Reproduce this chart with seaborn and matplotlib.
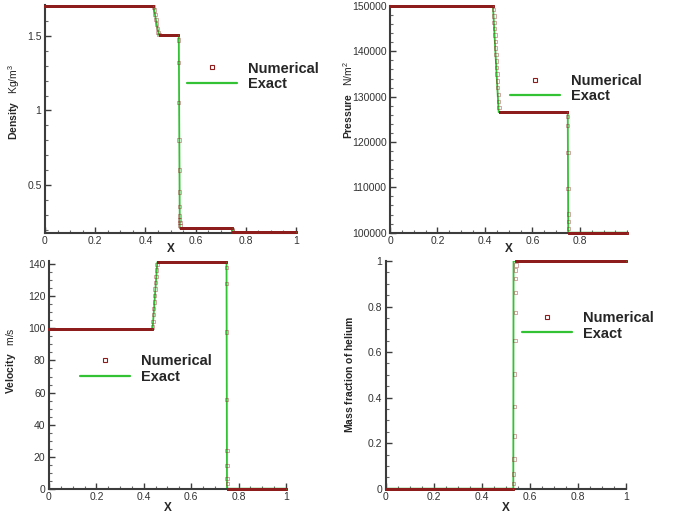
import numpy as np
import pandas as pd
import matplotlib
matplotlib.use("Agg")
import matplotlib.pyplot as plt
from matplotlib.lines import Line2D
from matplotlib.ticker import MultipleLocator, FixedLocator
import seaborn as sns

# ---------------------------------------------------------------------------
# Air / helium shock tube at the output time
# Exact solution: piecewise breakpoints; numerical: constant states + smeared cells
# ---------------------------------------------------------------------------
DX = 0.0025  # cell spacing of the numerical grid

# Density [kg/m^3]
rho_exact_x = [0.0, 0.432, 0.437, 0.442, 0.447, 0.451, 0.455, 0.533, 0.537, 0.746, 0.748, 1.0]
rho_exact_y = [1.70, 1.70, 1.655, 1.605, 1.56, 1.528, 1.505, 1.505, 0.207, 0.207, 0.182, 0.182]
rho_state_start = [0.0, 0.457, 0.540, 0.750]
rho_state_end = [0.430, 0.530, 0.745, 1.0]
rho_state_val = [1.70, 1.505, 0.207, 0.182]
rho_trans_x = [0.433, 0.436, 0.439, 0.442, 0.445, 0.448, 0.451, 0.454,
               0.531, 0.532, 0.533, 0.534, 0.535, 0.5355, 0.536, 0.5365, 0.537, 0.5375, 0.538,
               0.746, 0.748]
rho_trans_y = [1.695, 1.675, 1.645, 1.612, 1.58, 1.55, 1.525, 1.51,
               1.473, 1.32, 1.053, 0.80, 0.60, 0.453, 0.355, 0.292, 0.265, 0.247, 0.227,
               0.20, 0.19]

# Pressure [N/m^2]
p_exact_x = [0.0, 0.434, 0.440, 0.446, 0.452, 0.458, 0.749, 0.751, 1.0]
p_exact_y = [150000, 150000, 144000, 138100, 132300, 126600, 126600, 100000, 100000]
p_state_start = [0.0, 0.462, 0.754]
p_state_end = [0.433, 0.747, 1.0]
p_state_val = [150000, 126600, 100000]
p_trans_x = [0.436, 0.438, 0.439, 0.441, 0.442, 0.444, 0.445, 0.447, 0.448,
             0.450, 0.451, 0.453, 0.454, 0.456, 0.457, 0.459,
             0.749, 0.749, 0.750, 0.750, 0.751, 0.751, 0.752]
p_trans_y = [149200, 147800, 146400, 145000, 143600, 142200, 140700, 139300, 137900,
             136400, 135000, 133500, 132000, 130500, 129000, 127600,
             125620, 123580, 117740, 109780, 104090, 102410, 100950]

# Velocity [m/s]
u_exact_x = [0.0, 0.437, 0.442, 0.447, 0.452, 0.457, 0.749, 0.751, 1.0]
u_exact_y = [99.5, 99.5, 110.0, 120.5, 131.0, 141.3, 141.3, 0.0, 0.0]
u_state_start = [0.0, 0.459, 0.754]
u_state_end = [0.434, 0.747, 1.0]
u_state_val = [99.5, 141.3, 0.0]
u_trans_x = [0.436, 0.438, 0.440, 0.442, 0.444, 0.446, 0.448, 0.450, 0.452, 0.454, 0.456,
             0.749, 0.749, 0.750, 0.750, 0.751, 0.751, 0.751, 0.752]
u_trans_y = [101.0, 104.5, 108.5, 112.5, 116.5, 120.5, 124.5, 128.5, 132.5, 136.5, 140.0,
             138.0, 128.2, 97.7, 55.6, 23.8, 14.3, 6.5, 3.4]

# Mass fraction of helium [-]
y_exact_x = [0.0, 0.531, 0.532, 1.0]
y_exact_y = [0.0, 0.0, 1.0, 1.0]
y_state_start = [0.0, 0.543]
y_state_end = [0.530, 1.0]
y_state_val = [0.0, 1.0]
y_trans_x = [0.532, 0.533, 0.534, 0.535, 0.536, 0.537, 0.538, 0.539, 0.540, 0.541, 0.541, 0.542]
y_trans_y = [0.023, 0.064, 0.13, 0.231, 0.36, 0.504, 0.65, 0.773, 0.862, 0.924, 0.96, 0.982]

# ---------------------------------------------------------------------------
RED = "#8e1c1c"
BAND = "#6e6022"
GREEN = "#33c233"
AXCOL = "#3c3c3c"


def state_frame(starts, ends, values):
    xs, ys = [], []
    for a, b, v in zip(starts, ends, values):
        x = np.arange(a, b + 1e-9, DX)
        xs.append(x)
        ys.append(np.full_like(x, v, dtype=float))
    return pd.DataFrame({"x": np.concatenate(xs), "y": np.concatenate(ys)})


sns.set_theme(style="ticks")
plt.rcParams.update({
    "font.family": ["Liberation Sans", "DejaVu Sans"],
    "mathtext.fontset": "custom",
    "mathtext.rm": "Liberation Sans",
    "mathtext.it": "Liberation Sans:italic",
    "mathtext.bf": "Liberation Sans:bold",
    "axes.edgecolor": AXCOL,
    "axes.linewidth": 1.5,
})

fig = plt.figure(figsize=(6.83, 5.15), dpi=100)
W, H = 683.0, 515.0


def add_axes(left, top, right, bottom):
    return fig.add_axes([left / W, 1 - bottom / H, (right - left) / W, (bottom - top) / H])


panels = [
    dict(box=(45, 4.7, 296, 232.5), ex=(rho_exact_x, rho_exact_y),
         states=(rho_state_start, rho_state_end, rho_state_val),
         trans=(rho_trans_x, rho_trans_y),
         ylim=(0.18, 1.71), xlim=(0, 1), xmaj=[0, 0.2, 0.4, 0.6, 0.8, 1.0],
         ymaj=[0.5, 1.0, 1.5], ymin=0.1, yfmt=lambda v: f"{v:g}",
         ylabel=r"$\mathbf{Density}$   Kg/m$^3$", ylab_pos=(-0.092, 0.575),
         leg=(0.566, 0.685)),
    dict(box=(390, 6, 627.3, 232.7), ex=(p_exact_x, p_exact_y),
         states=(p_state_start, p_state_end, p_state_val),
         trans=(p_trans_x, p_trans_y),
         ylim=(100000, 150000), xlim=(0, 1.0), xmaj=[0, 0.2, 0.4, 0.6, 0.8],
         ymaj=list(range(100000, 150001, 10000)), ymin=2000, yfmt=lambda v: f"{int(v)}",
         ylabel=r"$\mathbf{Pressure}$   N/m$^2$", ylab_pos=(-0.147, 0.585),
         leg=(0.506, 0.636)),
    dict(box=(49, 261.1, 286, 488.7), ex=(u_exact_x, u_exact_y),
         states=(u_state_start, u_state_end, u_state_val),
         trans=(u_trans_x, u_trans_y),
         ylim=(0, 142), xlim=(0, 1), xmaj=[0, 0.2, 0.4, 0.6, 0.8, 1.0],
         ymaj=list(range(0, 141, 20)), ymin=5, yfmt=lambda v: f"{int(v)}",
         ylabel=r"$\mathbf{Velocity}$   m/s", ylab_pos=(-0.131, 0.561),
         leg=(0.131, 0.526)),
    dict(box=(385.7, 261, 626, 488.7), ex=(y_exact_x, y_exact_y),
         states=(y_state_start, y_state_end, y_state_val),
         trans=(y_trans_x, y_trans_y),
         ylim=(0, 1.0), xlim=(0, 1), xmaj=[0, 0.2, 0.4, 0.6, 0.8, 1.0],
         ymaj=[0, 0.2, 0.4, 0.6, 0.8, 1.0], ymin=0.05, yfmt=lambda v: f"{v:g}",
         ylabel=r"$\mathbf{Mass\ fraction\ of\ helium}$", ylab_pos=(-0.128, 0.5),
         leg=(0.568, 0.716)),
]

for i, pnl in enumerate(panels):
    ax = add_axes(*pnl["box"])
    ex_x, ex_y = pnl["ex"]
    sns.lineplot(x=ex_x, y=ex_y, ax=ax, sort=False, estimator=None,
                 color=GREEN, lw=1.3, zorder=2)
    # constant states: densely packed cells merge into a solid band
    sns.scatterplot(data=state_frame(*pnl["states"]), x="x", y="y", ax=ax,
                    marker="s", s=4.5, fc=BAND, ec=RED, linewidth=0.7,
                    legend=False, zorder=3, clip_on=False)
    # cells inside rarefactions, contacts and shocks
    tx, ty = pnl["trans"]
    sns.scatterplot(x=tx, y=ty, ax=ax, marker="s", s=6, fc="none", ec=RED,
                    linewidth=0.6, alpha=0.45, legend=False, zorder=3)

    ax.set_xlim(*pnl["xlim"])
    ax.set_ylim(*pnl["ylim"])
    sns.despine(ax=ax)
    ax.xaxis.set_major_locator(FixedLocator(pnl["xmaj"]))
    ax.xaxis.set_minor_locator(MultipleLocator(0.05))
    ax.yaxis.set_major_locator(FixedLocator(pnl["ymaj"]))
    ax.yaxis.set_minor_locator(MultipleLocator(pnl["ymin"]))
    ax.set_xticklabels([f"{v:g}" for v in pnl["xmaj"]])
    ax.set_yticklabels([pnl["yfmt"](v) for v in pnl["ymaj"]])
    ax.tick_params(which="major", direction="in", length=4.5, width=1.0,
                   color=AXCOL, labelsize=7.5, labelcolor="#333333", pad=2.5)
    ax.tick_params(which="minor", direction="in", length=2.2, width=0.8, color="#666666")

    ax.set_xlabel("X", fontsize=8.5, fontweight="bold")
    ax.xaxis.set_label_coords(0.5, -0.047 if i < 2 else -0.057)
    ax.set_ylabel(pnl["ylabel"], fontsize=7.5)
    ax.yaxis.set_label_coords(*pnl["ylab_pos"])

    handles = [
        Line2D([], [], ls="none", marker="s", mfc="none", mec=RED, ms=3.0, mew=0.8),
        Line2D([], [], color=GREEN, lw=1.6),
    ]
    ax.legend(handles, ["Numerical", "Exact"], loc="center left",
              bbox_to_anchor=pnl["leg"], frameon=False, borderpad=0,
              borderaxespad=0, handlelength=3.4, handletextpad=0.75,
              labelspacing=0.12, prop={"weight": "bold", "size": 10.5})

fig.savefig("out.png", dpi=100)
